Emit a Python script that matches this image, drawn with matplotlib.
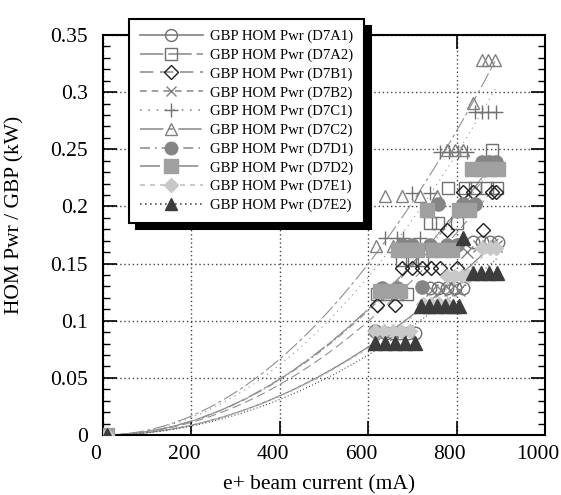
import numpy as np
import matplotlib
matplotlib.use("Agg")
import matplotlib.pyplot as plt
import matplotlib.transforms as mtransforms

plt.rcParams['font.family'] = ['Liberation Serif', 'DejaVu Serif']

labels = ["GBP HOM Pwr (D7A1)", "GBP HOM Pwr (D7A2)", "GBP HOM Pwr (D7B1)",
          "GBP HOM Pwr (D7B2)", "GBP HOM Pwr (D7C1)", "GBP HOM Pwr (D7C2)",
          "GBP HOM Pwr (D7D1)", "GBP HOM Pwr (D7D2)", "GBP HOM Pwr (D7E1)",
          "GBP HOM Pwr (D7E2)"]

# beam current (mA) and HOM power per GBP (kW) for each series
x_A1 = [10, 640, 657, 673, 690, 706, 740, 758, 778, 796, 815, 837, 857, 876, 894]
y_A1 = [0, 0.089, 0.089, 0.089, 0.089, 0.089, 0.129, 0.129, 0.129, 0.129, 0.129, 0.169, 0.169, 0.169, 0.169]

x_A2 = [10, 620, 642, 665, 688, 676, 699, 722, 740, 758, 800, 780, 819, 842, 869, 891, 880]
y_A2 = [0, 0.123, 0.123, 0.123, 0.123, 0.153, 0.153, 0.153, 0.1855, 0.1855, 0.1855, 0.216, 0.216, 0.216, 0.216, 0.216, 0.249]

x_B1 = [10, 620, 660, 676, 699, 722, 742, 762, 800, 778, 860, 815, 837, 880, 889]
y_B1 = [0, 0.114, 0.114, 0.146, 0.146, 0.146, 0.146, 0.146, 0.146, 0.179, 0.179, 0.2126, 0.2126, 0.2126, 0.2126]

x_B2 = [10, 630, 650, 670, 690, 745, 765, 785, 805, 823, 850, 870, 890]
y_B2 = [0, 0.088, 0.088, 0.088, 0.088, 0.127, 0.127, 0.127, 0.127, 0.160, 0.165, 0.165, 0.165]

x_C1 = [10, 638, 665, 679, 717, 699, 740, 762, 782, 803, 824, 842, 857, 871, 889]
y_C1 = [0, 0.172, 0.172, 0.172, 0.172, 0.2118, 0.2118, 0.2476, 0.2476, 0.2476, 0.2476, 0.2826, 0.2826, 0.2826, 0.2826]

x_C2 = [10, 618, 656, 638, 676, 717, 756, 778, 796, 815, 837, 857, 871, 887]
y_C2 = [0, 0.165, 0.165, 0.209, 0.209, 0.209, 0.209, 0.249, 0.249, 0.249, 0.2905, 0.328, 0.328, 0.328]

x_D1 = [10, 615, 631, 665, 721, 676, 699, 740, 778, 800, 758, 815, 842, 857, 874, 890]
y_D1 = [0, 0.091, 0.129, 0.129, 0.1295, 0.166, 0.166, 0.166, 0.166, 0.166, 0.202, 0.202, 0.202, 0.239, 0.239, 0.239]

x_D2 = [10, 627, 650, 672, 667, 688, 710, 747, 768, 790, 733, 805, 828, 835, 855, 875, 893]
y_D2 = [0, 0.126, 0.126, 0.126, 0.162, 0.162, 0.162, 0.162, 0.162, 0.162, 0.197, 0.197, 0.197, 0.233, 0.233, 0.233, 0.233]

x_E1 = [10, 615, 635, 655, 675, 695, 725, 742, 760, 778, 778, 795, 812, 826, 857, 876, 890]
y_E1 = [0, 0.091, 0.091, 0.091, 0.091, 0.091, 0.115, 0.115, 0.115, 0.115, 0.139, 0.139, 0.139, 0.139, 0.1636, 0.1636, 0.1636]

x_E2 = [10, 615, 638, 660, 683, 706, 720, 738, 756, 774, 792, 806, 815, 837, 855, 873, 892]
y_E2 = [0, 0.0805, 0.0805, 0.0805, 0.0805, 0.0805, 0.113, 0.113, 0.113, 0.113, 0.113, 0.113, 0.172, 0.1418, 0.1418, 0.1418, 0.1418]

xs = [x_A1, x_A2, x_B1, x_B2, x_C1, x_C2, x_D1, x_D2, x_E1, x_E2]
ys = [y_A1, y_A2, y_B1, y_B2, y_C1, y_C2, y_D1, y_D2, y_E1, y_E2]

markers = ['o', 's', 'D', 'x', '+', '^', 'o', 's', 'D', '^']
msizes = [9, 9, 7, 8, 10, 9, 9.5, 10, 7.5, 9.5]
mfaces = ['none', 'none', 'none', 'none', 'none', 'none', '#858585', '#a0a0a0', '#c8c8c8', '#3c3c3c']
medges = ['#707070', '#707070', '#202020', '#808080', '#707070', '#808080', '#858585', '#a0a0a0', '#c8c8c8', '#3c3c3c']
lstyles = ['-', (0, (14, 3)), (0, (8, 4)), (0, (4, 3)), (0, (1, 4)),
           (0, (14, 3, 3, 3)), (0, (6, 3, 1, 3)), (0, (12, 3, 1, 3, 1, 3)),
           (0, (3, 3)), (0, (1, 2))]
lcolors = ['#808080', '#909090', '#909090', '#909090', '#909090', '#909090',
           '#909090', '#909090', '#c0c0c0', '#505050']

fig = plt.figure(figsize=(5.61, 4.95), dpi=100)
ax = fig.add_axes([103/561, 1-435/495, 442/561, 400/495])

handles = []
for i in range(10):
    x = np.array(xs[i], dtype=float)
    y = np.array(ys[i], dtype=float)
    # least-squares fit y = a*x^2 of the measured points
    a = np.sum(y * x**2) / np.sum(x**4)
    xf = np.linspace(0, x.max(), 200)
    ax.plot(xf, a * xf**2, linestyle=lstyles[i], color=lcolors[i], lw=0.8, zorder=2)
    ax.plot(x, y, linestyle='none', marker=markers[i], ms=msizes[i],
            mfc=mfaces[i], mec=medges[i], mew=1.0, zorder=3)
    h, = ax.plot([], [], linestyle=lstyles[i], color=lcolors[i], lw=1.2,
                 marker=markers[i], ms=msizes[i] * 0.95, mfc=mfaces[i], mec=medges[i], mew=1.0)
    handles.append(h)

ax.set_xlim(0, 1000)
ax.set_ylim(0, 0.35)
ax.set_xticks([0, 200, 400, 600, 800, 1000])
ax.set_xticklabels(['0', '200', '400', '600', '800', '1000'])
ax.set_yticks([0, 0.05, 0.1, 0.15, 0.2, 0.25, 0.3, 0.35])
ax.set_yticklabels(['0', '0.05', '0.1', '0.15', '0.2', '0.25', '0.3', '0.35'])
ax.set_yticks(np.arange(0, 0.351, 0.01), minor=True)
ax.tick_params(axis='both', which='major', direction='in', length=10, width=1.2,
               labelsize=15.5, top=True, right=True, color='black')
ax.tick_params(axis='y', which='minor', direction='in', length=5, width=1.0, right=True)
ax.tick_params(axis='x', which='major', pad=7)
ax.tick_params(axis='y', which='major', pad=11)
ax.grid(True, which='major', linestyle=(0, (1, 2)), color='#444444', lw=1.0)
for s in ax.spines.values():
    s.set_linewidth(1.5)

offset = mtransforms.ScaledTranslation(-7/100, 0, fig.dpi_scale_trans)
for lab in ax.get_xticklabels():
    lab.set_transform(lab.get_transform() + offset)

fig.text(15/561, 1-215/495, 'HOM Pwr / GBP (kW)', rotation=90, ha='center', va='center', fontsize=15.5)
fig.text(319/561, 1-485/495, 'e+ beam current (mA)', ha='center', va='center', fontsize=15.5)

leg = ax.legend(handles, labels, loc='upper left', bbox_to_anchor=(122/561, 1-12/495),
                bbox_transform=fig.transFigure, fontsize=10.6, frameon=True,
                fancybox=False, framealpha=1, edgecolor='black', handlelength=4.3,
                handletextpad=0.5, labelspacing=0.36, borderpad=0.7, numpoints=1,
                shadow={'ox': 5, 'oy': -5, 'color': 'black', 'alpha': 1})
leg.get_frame().set_linewidth(1.5)
leg.set_zorder(10)

fig.savefig('out.png', dpi=100)
